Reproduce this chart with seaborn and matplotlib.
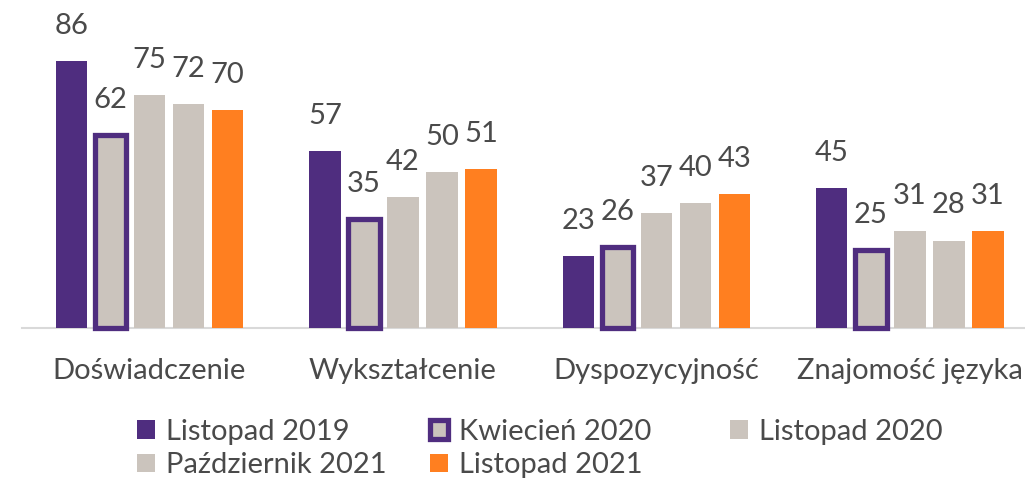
import pandas as pd
import matplotlib
matplotlib.use("Agg")
import matplotlib.pyplot as plt
from matplotlib.patches import Patch
import seaborn as sns

# Dane
kategorie = ["Doświadczenie", "Wykształcenie", "Dyspozycyjność", "Znajomość języka"]
okresy = ["Listopad 2019", "Kwiecień 2020", "Listopad 2020", "Październik 2021", "Listopad 2021"]
listopad_2019 = [86, 57, 23, 45]
kwiecien_2020 = [62, 35, 26, 25]
listopad_2020 = [75, 42, 37, 31]
pazdziernik_2021 = [72, 50, 40, 28]
listopad_2021 = [70, 51, 43, 31]

FIOLET = "#4F2D7F"
SZARY = "#CBC4BD"
POMARANCZ = "#FF7F20"
TEKST = "#4A4A4A"
kolory = [FIOLET, SZARY, SZARY, SZARY, POMARANCZ]

serie = [listopad_2019, kwiecien_2020, listopad_2020, pazdziernik_2021, listopad_2021]
rows = []
for okres, wartosci in zip(okresy, serie):
    for kat, v in zip(kategorie, wartosci):
        rows.append({"kategoria": kat, "okres": okres, "wartosc": v})
df = pd.DataFrame(rows)

sns.set_theme(style="white")
plt.rcParams["font.family"] = ["Lato", "DejaVu Sans"]

ROZMIAR = 21

fig = plt.figure(figsize=(10.25, 4.82), dpi=100)
ax = fig.add_axes([22 / 1025, (482 - 327.5) / 482, 1 - 22 / 1025, 327.5 / 482])

sns.barplot(data=df, x="kategoria", y="wartosc", hue="okres", hue_order=okresy,
            palette=kolory, saturation=1, width=0.77, gap=0.2, linewidth=0,
            legend=False, ax=ax)

# Kwiecień 2020: szare wypełnienie z fioletową ramką
for cont, okres in zip(ax.containers, okresy):
    for bar in cont:
        bar.set_zorder(3)
        if okres == "Kwiecień 2020":
            bar.set_edgecolor(FIOLET)
            bar.set_linewidth(3.8)
            bar.set_clip_on(False)
            bar.set_zorder(4)
    ax.bar_label(cont, fmt="%d", padding=16, fontsize=ROZMIAR, color=TEKST)

ax.set_xlim(-0.503, 3.454)
ax.set_ylim(0, 105.6)
ax.set_xlabel("")
ax.set_ylabel("")
ax.set_yticks([])
sns.despine(ax=ax, left=True, top=True, right=True)
ax.spines["bottom"].set_color("#D9D9D9")
ax.spines["bottom"].set_linewidth(1.5)
ax.tick_params(axis="x", length=0, pad=22, labelsize=ROZMIAR, labelcolor=TEKST)

# Legenda w trzech kolumnach
def uchwyt(i):
    if okresy[i] == "Kwiecień 2020":
        return Patch(facecolor=SZARY, edgecolor=FIOLET, linewidth=3.8)
    return Patch(facecolor=kolory[i], linewidth=0)

kolumny = [([0, 3], 137), ([1, 4], 430), ([2], 730)]
for idx, xpx in kolumny:
    leg = fig.legend([uchwyt(i) for i in idx], [okresy[i] for i in idx],
                     loc="upper left", bbox_to_anchor=(xpx / 1025, 1 - 419 / 482),
                     frameon=False, fontsize=ROZMIAR, labelcolor=TEKST,
                     handlelength=0.6, handleheight=0.6, handletextpad=0.4,
                     labelspacing=0.25, borderpad=0, borderaxespad=0)

fig.savefig("out.png", dpi=100)
